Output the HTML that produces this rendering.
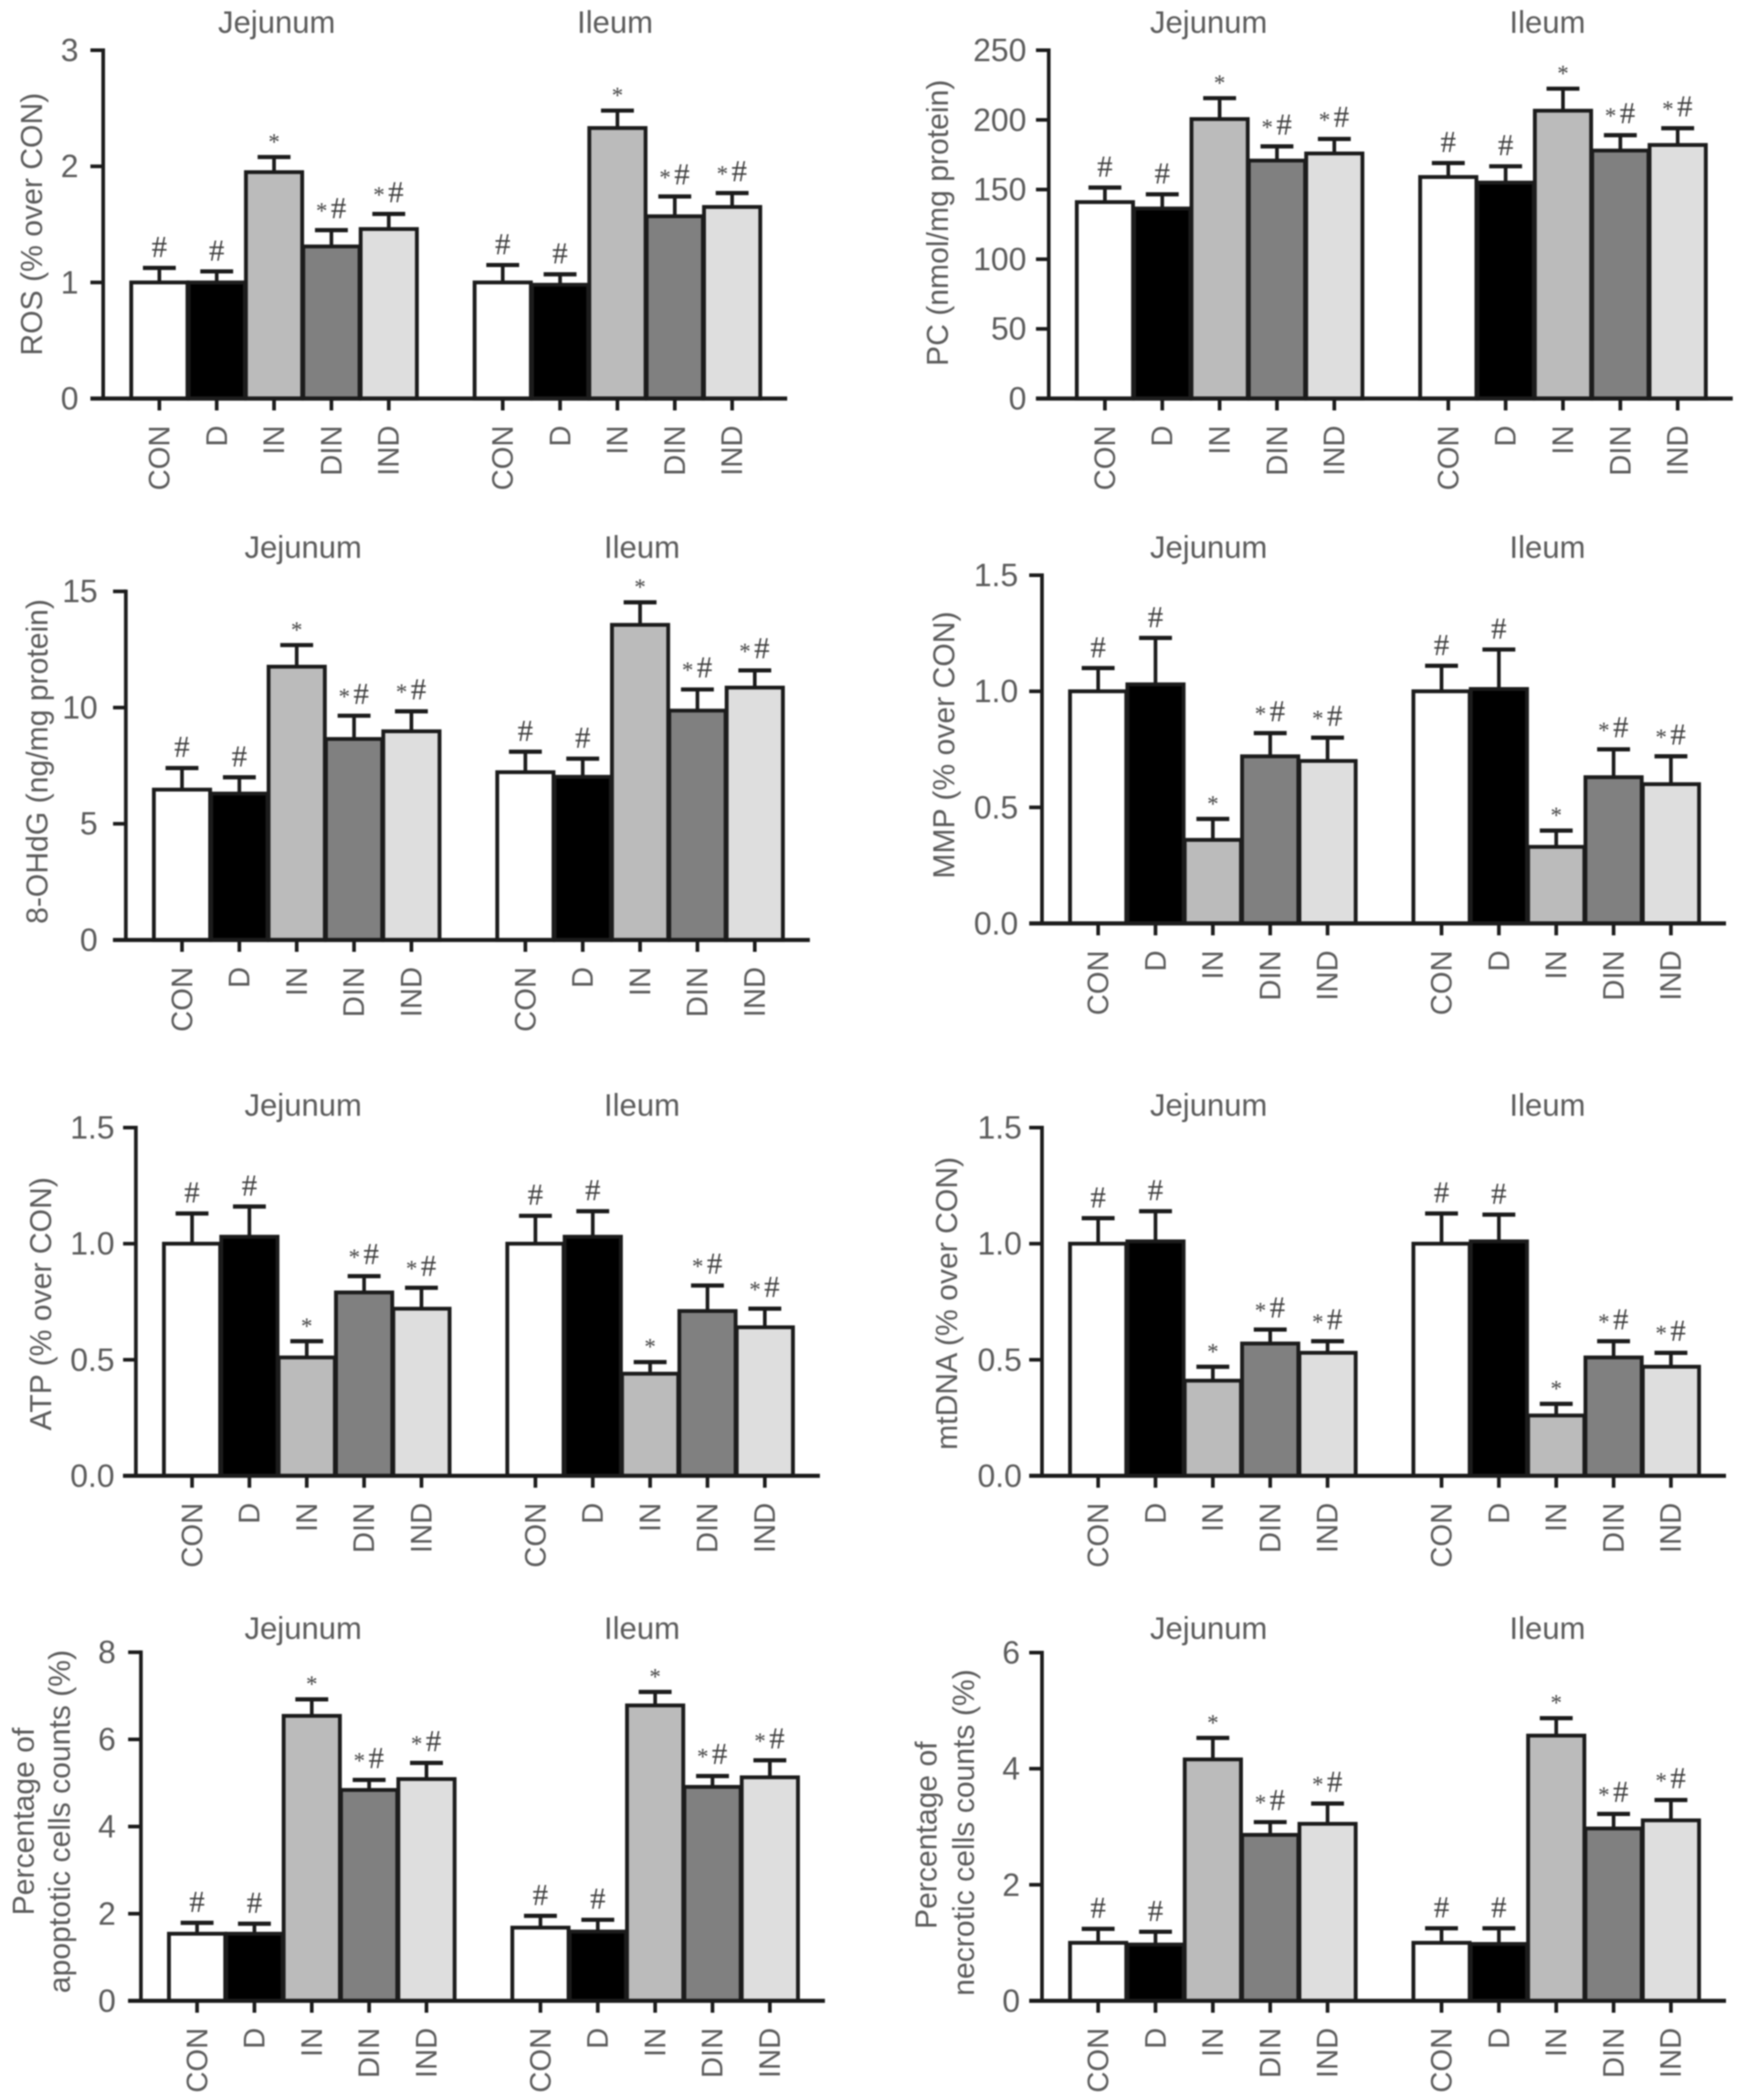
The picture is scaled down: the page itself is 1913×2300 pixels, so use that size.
<!DOCTYPE html>
<html>
<head>
<meta charset="utf-8">
<title>Jejunum and ileum bar charts</title>
<style>
html,body{margin:0;padding:0;background:#fff;}
#figure{display:block;filter:blur(0.7px);}
text{font-family:"Liberation Sans",sans-serif;fill:#5c5c5c;}
text.sig{font-family:"Liberation Serif",serif;fill:#3f3f3f;}
</style>
</head>
<body>
<svg id="figure" xmlns="http://www.w3.org/2000/svg" width="1913" height="2300" viewBox="0 0 1913 2300"></svg>
<script>
const categories = ['CON', 'D', 'IN', 'DIN', 'IND'];
const groups = ['Jejunum', 'Ileum'];
const significance = ['#', '#', '*', '*#', '*#'];

const rosTicks = ['0', '1', '2', '3'];
const rosJejunum = [1.00, 1.00, 1.95, 1.31, 1.46];
const rosJejunumUpper = [1.125, 1.095, 2.08, 1.45, 1.59];
const rosIleum = [1.00, 0.98, 2.33, 1.57, 1.65];
const rosIleumUpper = [1.15, 1.07, 2.48, 1.74, 1.77];

const pcTicks = ['0', '50', '100', '150', '200', '250'];
const pcJejunum = [141, 136.4, 200.6, 170.8, 175.9];
const pcJejunumUpper = [151.4, 146.6, 215.6, 181, 186.3];
const pcIleum = [159, 155, 206.6, 178, 182];
const pcIleumUpper = [169, 166.7, 222.4, 189, 194];

const ohdgTicks = ['0', '5', '10', '15'];
const ohdgJejunum = [6.47, 6.3, 11.76, 8.65, 8.98];
const ohdgJejunumUpper = [7.4, 7.0, 12.69, 9.65, 9.84];
const ohdgIleum = [7.22, 7.02, 13.56, 9.87, 10.86];
const ohdgIleumUpper = [8.1, 7.8, 14.53, 10.78, 11.6];

const mmpTicks = ['0.0', '0.5', '1.0', '1.5'];
const mmpJejunum = [1.00, 1.03, 0.36, 0.72, 0.70];
const mmpJejunumUpper = [1.10, 1.23, 0.45, 0.82, 0.80];
const mmpIleum = [1.00, 1.01, 0.33, 0.63, 0.60];
const mmpIleumUpper = [1.11, 1.18, 0.40, 0.75, 0.72];

const atpTicks = ['0.0', '0.5', '1.0', '1.5'];
const atpJejunum = [1.00, 1.03, 0.51, 0.79, 0.72];
const atpJejunumUpper = [1.13, 1.16, 0.58, 0.86, 0.81];
const atpIleum = [1.00, 1.03, 0.44, 0.71, 0.64];
const atpIleumUpper = [1.12, 1.14, 0.49, 0.82, 0.72];

const mtdnaTicks = ['0.0', '0.5', '1.0', '1.5'];
const mtdnaJejunum = [1.00, 1.01, 0.41, 0.57, 0.53];
const mtdnaJejunumUpper = [1.11, 1.14, 0.47, 0.63, 0.58];
const mtdnaIleum = [1.00, 1.01, 0.26, 0.51, 0.47];
const mtdnaIleumUpper = [1.13, 1.125, 0.31, 0.58, 0.53];

const apoTicks = ['0', '2', '4', '6', '8'];
const apoJejunum = [1.54, 1.54, 6.54, 4.84, 5.09];
const apoJejunumUpper = [1.79, 1.77, 6.92, 5.07, 5.46];
const apoIleum = [1.68, 1.59, 6.78, 4.91, 5.13];
const apoIleumUpper = [1.95, 1.86, 7.09, 5.16, 5.52];

const necTicks = ['0', '2', '4', '6'];
const necJejunum = [1.00, 0.97, 4.16, 2.86, 3.05];
const necJejunumUpper = [1.24, 1.19, 4.53, 3.08, 3.40];
const necIleum = [1.00, 0.98, 4.57, 2.97, 3.11];
const necIleumUpper = [1.25, 1.25, 4.87, 3.22, 3.46];

const barFills = ['#ffffff', '#000000', '#bbbbbb', '#808080', '#dedede'];
const NS = 'http://www.w3.org/2000/svg';
const svg = document.getElementById('figure');

const panels = [
  {id:'ros', ticks:rosTicks, max:3, means:[rosJejunum,rosIleum], uppers:[rosJejunumUpper,rosIleumUpper],
   ax:113, top:55, base:436.5, tickRight:86, titleY:36, titleX:[303,673.5],
   ylabel:[{t:'ROS (% over CON)', x:46, y:245.5}]},
  {id:'pc', ticks:pcTicks, max:250, means:[pcJejunum,pcIleum], uppers:[pcJejunumUpper,pcIleumUpper],
   ax:1148.4, top:55, base:436.5, tickRight:1124, titleY:36, titleX:[1323.5,1694.5],
   ylabel:[{t:'PC (nmol/mg protein)', x:1038, y:244}]},
  {id:'ohdg', ticks:ohdgTicks, max:15, means:[ohdgJejunum,ohdgIleum], uppers:[ohdgJejunumUpper,ohdgIleumUpper],
   ax:137.8, top:647.7, base:1029.5, tickRight:107, titleY:611, titleX:[332,703],
   ylabel:[{t:'8-OHdG (ng/mg protein)', x:52, y:834}]},
  {id:'mmp', ticks:mmpTicks, max:1.5, means:[mmpJejunum,mmpIleum], uppers:[mmpJejunumUpper,mmpIleumUpper],
   ax:1141, top:630, base:1011.4, tickRight:1115, titleY:611, titleX:[1323.5,1694.5],
   ylabel:[{t:'MMP (% over CON)', x:1045, y:816}]},
  {id:'atp', ticks:atpTicks, max:1.5, means:[atpJejunum,atpIleum], uppers:[atpJejunumUpper,atpIleumUpper],
   ax:148.8, top:1235, base:1616.4, tickRight:125.5, titleY:1222, titleX:[332,703],
   ylabel:[{t:'ATP (% over CON)', x:56, y:1428}]},
  {id:'mtdna', ticks:mtdnaTicks, max:1.5, means:[mtdnaJejunum,mtdnaIleum], uppers:[mtdnaJejunumUpper,mtdnaIleumUpper],
   ax:1141, top:1235, base:1616.4, tickRight:1119, titleY:1222, titleX:[1323.5,1694.5],
   ylabel:[{t:'mtDNA (% over CON)', x:1048, y:1427.5}]},
  {id:'apoptotic', ticks:apoTicks, max:8, means:[apoJejunum,apoIleum], uppers:[apoJejunumUpper,apoIleumUpper],
   ax:154.3, top:1809.6, base:2191.4, tickRight:126.8, titleY:1795, titleX:[332,703],
   ylabel:[{t:'Percentage of', x:37, y:1995},{t:'apoptotic cells counts (%)', x:76.5, y:1995}]},
  {id:'necrotic', ticks:necTicks, max:6, means:[necJejunum,necIleum], uppers:[necJejunumUpper,necIleumUpper],
   ax:1141, top:1810, base:2191.4, tickRight:1117, titleY:1795, titleX:[1323.5,1694.5],
   ylabel:[{t:'Percentage of', x:1025.6, y:2010},{t:'necrotic cells counts (%)', x:1066.4, y:2007}]}
];

function make(tag, parent, attrs) {
  const el = document.createElementNS(NS, tag);
  for (const k in attrs) el.setAttribute(k, attrs[k]);
  parent.appendChild(el);
  return el;
}

function drawLine(parent, x1, y1, x2, y2, w) {
  const el = make('line', parent, {x1:x1, y1:y1, x2:x2, y2:y2, stroke:'#1c1c1c', 'stroke-width':w});
  return el;
}

panels.forEach(function (p) {
  const g = make('g', svg, {});
  
  

  const yScale = function (v) { return p.base - (v / p.max) * (p.base - p.top); };
  const xScale = function (groupIndex, catIndex) { return p.ax + 61.5 + groupIndex * 376 + catIndex * 62.8; };

  // bars and error bars
  groups.forEach(function (groupName, gi) {
    categories.forEach(function (cat, ci) {
      const cx = xScale(gi, ci);
      const topY = yScale(p.means[gi][ci]);
      const capY = yScale(p.uppers[gi][ci]);

      const stem = drawLine(g, cx, topY, cx, capY, 4);
      
      

      const cap = drawLine(g, cx - 18, capY, cx + 18, capY, 4.6);
      
      

      const bar = make('rect', g, {x:cx - 30.8, y:topY, width:61.6, height:p.base - topY,
        fill:barFills[ci], stroke:'#1c1c1c', 'stroke-width':4.2});
      
      

      const sign = significance[ci];
      const both = sign.length > 1;
      if (sign.indexOf('#') >= 0) {
        const hx = both ? cx + 7.8 : cx;
        const hy = both ? capY - 24.6 : capY - 23.5;
        const hash = make('text', g, {x:hx, y:hy + 11.6, 'text-anchor':'middle', 'font-size':34, class:'sig'});
        hash.textContent = '#';
        
        
      }
      if (sign.indexOf('*') >= 0) {
        const sx = both ? cx - 10.7 : cx;
        const sy = both ? capY - 12.9 : capY - 8.6;
        const star = make('text', g, {x:sx, y:sy, 'text-anchor':'middle', 'font-size':25, class:'sig'});
        star.textContent = '*';
        
        
      }

      const tick = drawLine(g, cx, p.base, cx, p.base + 13, 4);
      
      

      const lx = cx + 11;
      const ly = p.base + 29.5;
      const label = make('text', g, {x:lx, y:ly, 'text-anchor':'end', 'font-size':32,
        transform:'rotate(-90 ' + lx + ' ' + ly + ')'});
      label.textContent = cat;
      
      
    });

    const title = make('text', g, {x:p.titleX[gi], y:p.titleY, 'text-anchor':'middle', 'font-size':34});
    title.textContent = groupName;
    
    
  });

  // axes
  const yAxis = drawLine(g, p.ax, p.top - 2, p.ax, p.base + 2, 4);
  
  

  const xAxis = drawLine(g, p.ax - 14, p.base, p.ax + 749, p.base, 4.5);
  
  

  p.ticks.forEach(function (label) {
    const ty = yScale(parseFloat(label));
    const tick = drawLine(g, p.ax - 14, ty, p.ax, ty, 4);
    
    

    const text = make('text', g, {x:p.tickRight, y:ty + 12, 'text-anchor':'end', 'font-size':35});
    text.textContent = label;
    
    
  });

  p.ylabel.forEach(function (line) {
    const text = make('text', g, {x:line.x, y:line.y, 'text-anchor':'middle', 'font-size':33,
      transform:'rotate(-90 ' + line.x + ' ' + line.y + ')'});
    text.textContent = line.t;
    
    
  });
});
</script>
</body>
</html>
